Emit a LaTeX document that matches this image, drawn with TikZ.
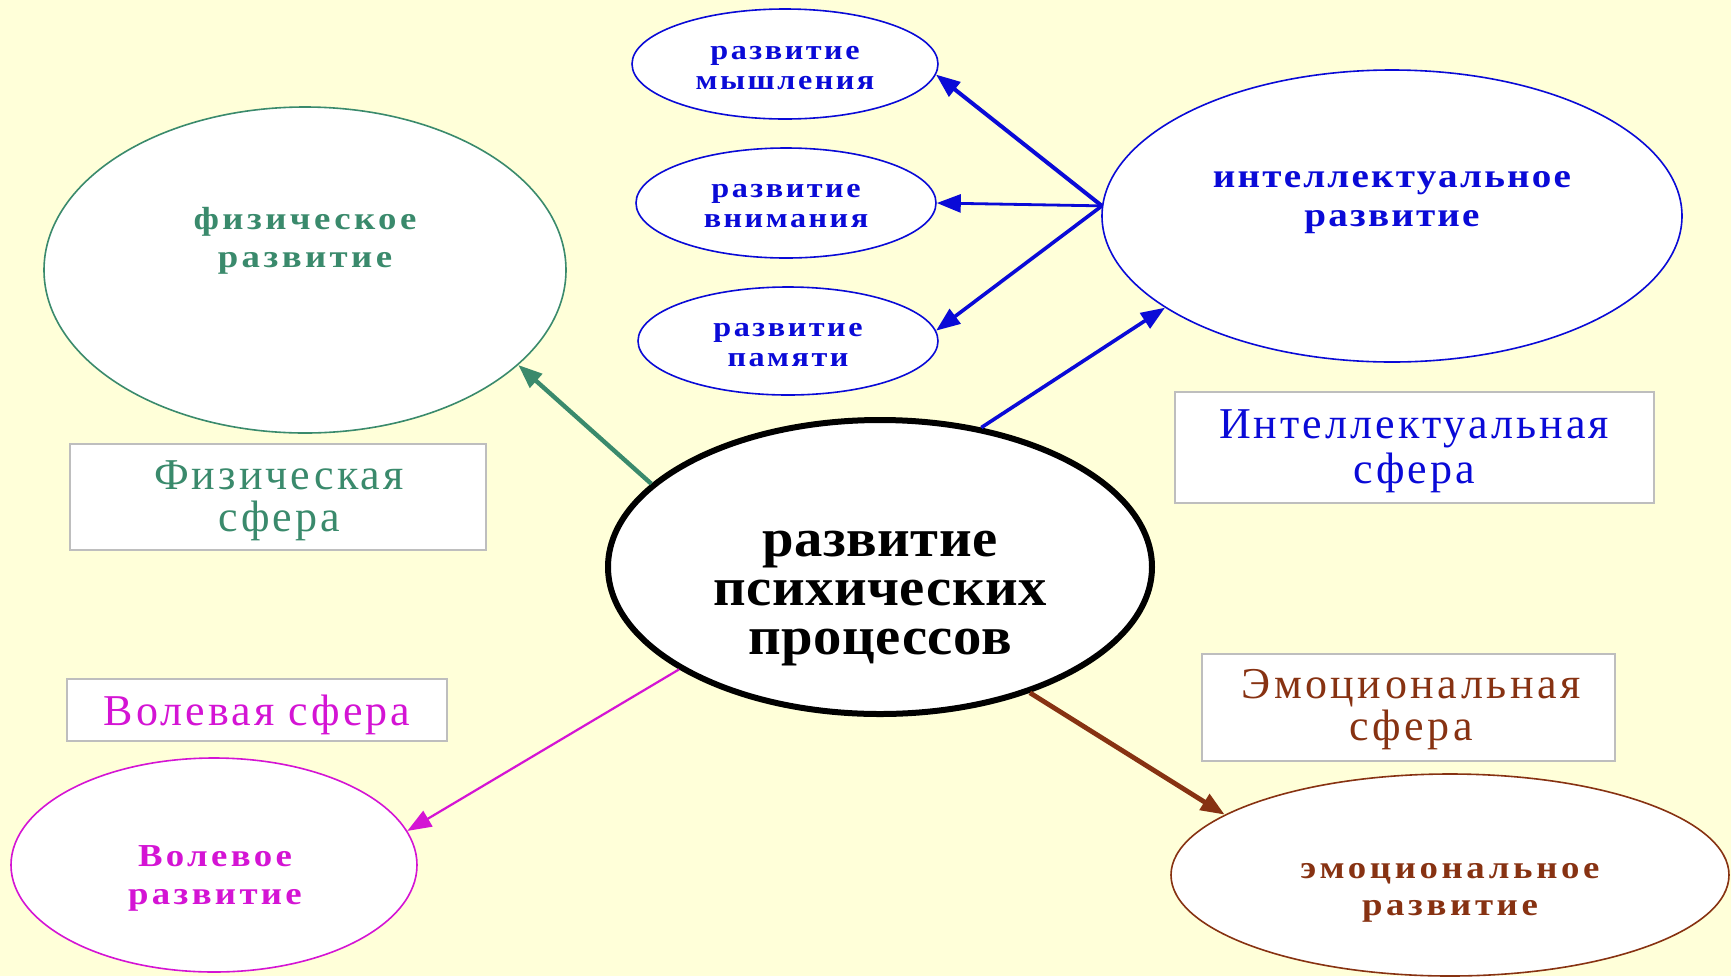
\documentclass[tikz,border=0pt]{standalone}
\usepackage{fontspec}
\setmainfont{Liberation Serif}
\usetikzlibrary{shapes.geometric,arrows.meta}
\definecolor{bgc}{RGB}{255,255,217}
\definecolor{cblue}{RGB}{10,10,215}
\definecolor{cgreen}{RGB}{58,138,108}
\definecolor{cmag}{RGB}{212,20,212}
\definecolor{cbrown}{RGB}{135,50,18}
\definecolor{boxgray}{RGB}{190,190,190}
\begin{document}
\begin{tikzpicture}[x=0.5pt,y=-0.5pt,
  ell/.style={ellipse, draw, fill=white, inner sep=0pt, line width=0.8pt},
  box/.style={rectangle, draw=boxgray, fill=white, line width=0.6pt, inner sep=0pt},
  txt/.style={align=center, inner sep=0pt},
  arr/.style={draw=#1, -{Triangle[length=12pt,width=9pt]}, fill=#1}
]
\fill[bgc] (0,0) rectangle (1731,976);
\useasboundingbox (0,0) rectangle (1731,976);

% ellipses
\node[ell, draw=cgreen, minimum width=261pt, minimum height=163pt] (phys) at (305,270) {};
\node[ell, draw=cblue, minimum width=290pt, minimum height=146pt] (intel) at (1392,216) {};
\node[ell, draw=cblue, minimum width=153pt, minimum height=55pt] (mysh) at (785,64) {};
\node[ell, draw=cblue, minimum width=150pt, minimum height=55pt] (vnim) at (786,203) {};
\node[ell, draw=cblue, minimum width=150pt, minimum height=54pt] (pam) at (788,341) {};
\node[ell, draw=black, line width=3pt, minimum width=272pt, minimum height=147pt] (cent) at (880,567) {};
\node[ell, draw=cmag, minimum width=203pt, minimum height=107pt] (vol) at (214,865) {};
\node[ell, draw=cbrown, minimum width=279pt, minimum height=101pt] (emo) at (1450,875) {};

% ellipse texts
\node[txt, text=cgreen, font={\fontsize{16}{19}\selectfont\bfseries\addfontfeatures{FakeStretch=1.15,LetterSpace=10.7}}] (physT) at (305,241) {физическое\\развитие};
\node[txt, text=cblue, font={\fontsize{17}{19.5}\selectfont\bfseries\addfontfeatures{FakeStretch=1.15,LetterSpace=6.5}}] (intelT) at (1392,203) {интеллектуальное\\развитие};
\node[txt, text=cblue, font={\fontsize{14}{15}\selectfont\bfseries\addfontfeatures{FakeStretch=1.15,LetterSpace=9}}] (myshT) at (785,68) {развитие\\мышления};
\node[txt, text=cblue, font={\fontsize{14}{15}\selectfont\bfseries\addfontfeatures{FakeStretch=1.15,LetterSpace=9}}] (vnimT) at (786,206) {развитие\\внимания};
\node[txt, text=cblue, font={\fontsize{14}{15}\selectfont\bfseries\addfontfeatures{FakeStretch=1.15,LetterSpace=9}}] (pamT) at (788,345) {развитие\\памяти};
\node[txt, text=black, font={\fontsize{27}{24.5}\selectfont\bfseries\addfontfeatures{FakeStretch=1.05,LetterSpace=1}}] (centT) at (880,599) {развитие\\психических\\процессов};
\node[txt, text=cmag, font={\fontsize{16}{19}\selectfont\bfseries\addfontfeatures{FakeStretch=1.15,LetterSpace=10.4}}] (volT) at (215,878) {Волевое\\развитие};
\node[txt, text=cbrown, font={\fontsize{16}{18.5}\selectfont\bfseries\addfontfeatures{FakeStretch=1.15,LetterSpace=11.4}}] (emoT) at (1450,893) {эмоциональное\\развитие};

% boxes
\node[box, minimum width=208pt, minimum height=53pt] (physB) at (278,497) {};
\node[txt, text=cgreen, font={\fontsize{22}{21}\selectfont\addfontfeatures{LetterSpace=7}}] (physL) at (279,501) {Физическая\\сфера};
\node[box, minimum width=239.5pt, minimum height=55.5pt] (intelB) at (1414.5,447.5) {};
\node[txt, text=cblue, font={\fontsize{22}{22.5}\selectfont\addfontfeatures{LetterSpace=7}}] (intelL) at (1414,451) {Интеллектуальная\\сфера};
\node[box, minimum width=190pt, minimum height=31pt] (volB) at (257,710) {};
\node[txt, text=cmag, font={\fontsize{22}{21}\selectfont\addfontfeatures{LetterSpace=7}}] (volL) at (257,715) {Волевая сфера};
\node[box, minimum width=206.5pt, minimum height=53.5pt] (emoB) at (1408.5,707.5) {};
\node[txt, text=cbrown, font={\fontsize{22}{21}\selectfont\addfontfeatures{LetterSpace=8}}] (emoL) at (1411,710) {Эмоциональная\\сфера};

% connectors
\draw[arr=cblue, line width=2pt] (intel.178) -- (mysh.356);
\draw[arr=cblue, line width=1.4pt] (intel.178) -- (vnim.0);
\draw[arr=cblue, line width=1.8pt] (intel.178) -- (pam.4);
\draw[arr=cblue, line width=1.8pt] (cent.54.6) -- (intel.202.5);
\draw[arr=cgreen, line width=2.2pt] (cent.160.2) -- (phys.336.5);
\draw[arr=cmag, line width=1.1pt] (cent.207.5) -- (vol.10.3);
\draw[arr=cbrown, line width=2.4pt] (cent.320.5) -- (emo.165.4);
\end{tikzpicture}
\end{document}
